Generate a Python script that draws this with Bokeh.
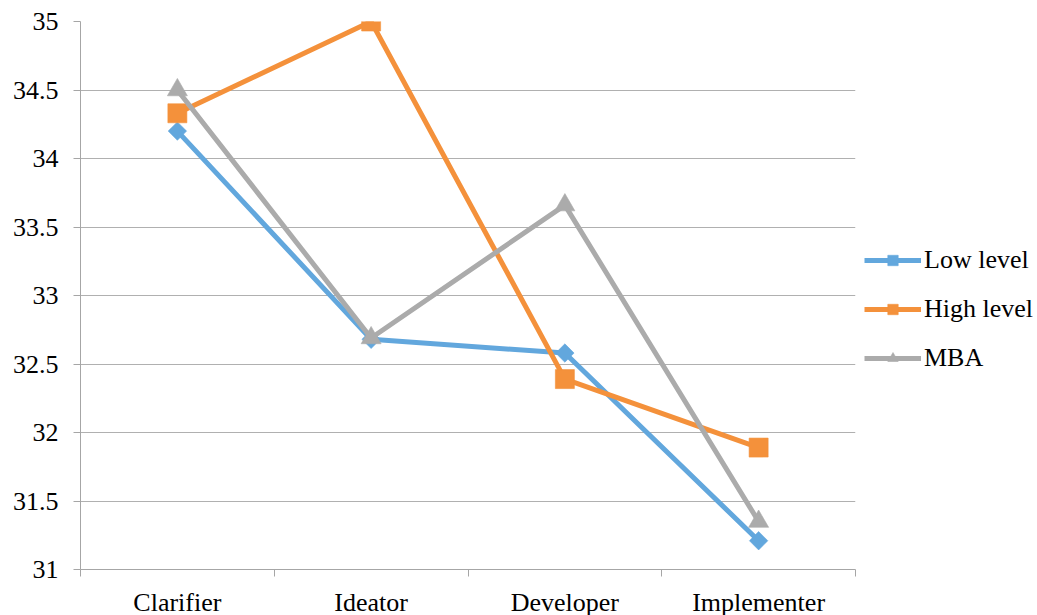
from bokeh.plotting import figure
from bokeh.models import Range1d, FixedTicker, Legend, LegendItem
from bokeh.embed import file_html
from bokeh.resources import INLINE
import math

categories = ["Clarifier", "Ideator", "Developer", "Implementer"]
low_level = [34.20, 32.68, 32.58, 31.21]
high_level = [34.33, 35.00, 32.39, 31.89]
mba = [34.50, 32.69, 33.66, 31.35]
y_ticks = [31, 31.5, 32, 32.5, 33, 33.5, 34, 34.5, 35]
y_tick_labels = ["31", "31.5", "32", "32.5", "33", "33.5", "34", "34.5", "35"]

FONT = "Times New Roman, Liberation Serif, Times, serif"
BLUE = "#62A7DD"
ORANGE = "#F4913B"
GRAY = "#ABABAB"

xs = [i + 0.5 for i in range(len(categories))]

p = figure(frame_width=775, frame_height=548, output_backend="svg", toolbar_location=None,
           x_range=Range1d(0, len(categories)), y_range=Range1d(31, 35),
           min_border_left=80, min_border_right=182, min_border_top=21, min_border_bottom=46)
p.outline_line_color = None
p.background_fill_color = "white"
p.border_fill_color = "white"

p.xaxis.ticker = FixedTicker(ticks=xs, minor_ticks=list(range(len(categories) + 1)))
p.xaxis.major_label_overrides = {x: c for x, c in zip(xs, categories)}
p.xaxis.major_tick_out = 0
p.xaxis.major_tick_in = 0
p.xaxis.minor_tick_out = 7
p.xaxis.minor_tick_in = 0
p.xaxis.minor_tick_line_color = "#A6A6A6"
p.xaxis.axis_line_color = "#A6A6A6"
p.xaxis.major_label_text_font = FONT
p.xaxis.major_label_text_font_size = "26px"
p.xaxis.major_label_text_color = "black"
p.xaxis.major_label_standoff = 11

p.yaxis.ticker = FixedTicker(ticks=y_ticks, minor_ticks=[])
p.yaxis.major_label_overrides = {t: l for t, l in zip(y_ticks, y_tick_labels)}
p.yaxis.major_tick_out = 7
p.yaxis.major_tick_in = 0
p.yaxis.major_tick_line_color = "#A6A6A6"
p.yaxis.axis_line_color = "#A6A6A6"
p.yaxis.major_label_text_font = FONT
p.yaxis.major_label_text_font_size = "26px"
p.yaxis.major_label_text_color = "black"
p.yaxis.major_label_standoff = 15

p.xgrid.grid_line_color = None
p.ygrid.grid_line_color = "#B0B0B0"
p.ygrid.grid_line_width = 1

items = []
for vals, color, name, marker, size, angle in [
    (low_level, BLUE, "Low level", "square", 13, math.pi / 4),
    (high_level, ORANGE, "High level", "square", 19, 0),
    (mba, GRAY, "MBA", "triangle", 20, 0),
]:
    ln = p.line(xs, vals, line_color=color, line_width=5)
    sc = p.scatter(xs, vals, marker=marker, size=size, angle=angle,
                   fill_color=color, line_color=color, line_alpha=0.6)
    items.append(LegendItem(label=name, renderers=[ln, sc]))

legend = Legend(items=items, location=(9, 196), orientation="vertical",
                glyph_width=57, glyph_height=26, label_height=26, spacing=19,
                label_standoff=3, padding=0, margin=0,
                label_text_font=FONT, label_text_font_size="26px",
                label_text_color="black", border_line_color=None,
                background_fill_alpha=0)
p.add_layout(legend, "right")

open("out.html", "w").write(file_html(p, INLINE))
